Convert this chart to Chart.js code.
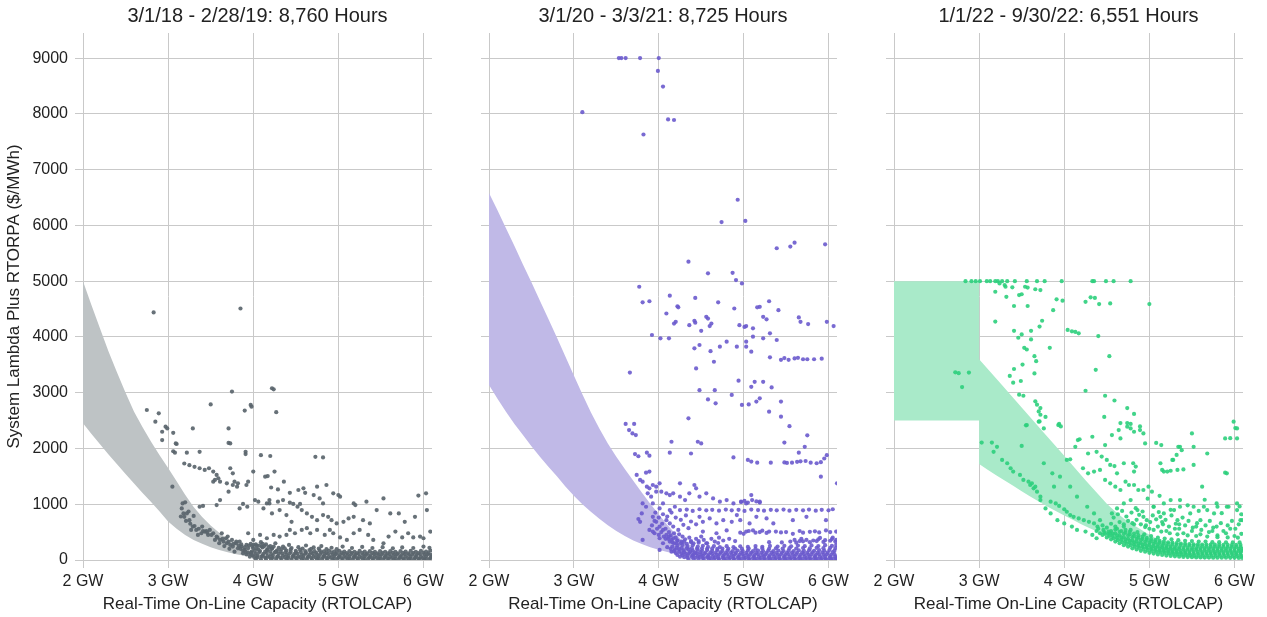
<!DOCTYPE html>
<html>
<head>
<meta charset="utf-8">
<script src="https://cdn.jsdelivr.net/npm/chart.js@4.4.1/dist/chart.umd.min.js"></script>
<style>
  html, body { margin: 0; padding: 0; background: #fff; }
  .panel { position: absolute; top: 0; height: 617px; }
</style>
</head>
<body>
<div class="panel" style="left:0;width:450px"><canvas id="c1"></canvas></div>
<div class="panel" style="left:450px;width:410px"><canvas id="c2"></canvas></div>
<div class="panel" style="left:860px;width:407px"><canvas id="c3"></canvas></div>
<script>
// panel titles / axis labels
const titles = ['3/1/18 - 2/28/19: 8,760 Hours', '3/1/20 - 3/3/21: 8,725 Hours', '1/1/22 - 9/30/22: 6,551 Hours'];
const xTitle = 'Real-Time On-Line Capacity (RTOLCAP)';
const yTitle = 'System Lambda Plus RTORPA ($/MWh)';
const xTicks = [2, 3, 4, 5, 6];
const yTicks = [0, 1000, 2000, 3000, 4000, 5000, 6000, 7000, 8000, 9000];

// shaded ORDC bands [GW, $/MWh]
const band18Upper = [[2.0,5000],[2.1,4570],[2.2,4150],[2.3,3740],[2.4,3360],[2.5,3000],[2.6,2660],[2.7,2380],[2.8,2120],[2.9,1880],[3.0,1650],[3.1,1410],[3.2,1170],[3.3,950],[3.4,770],[3.5,620],[3.6,490],[3.7,380],[3.8,285],[3.9,205],[4.0,138],[4.1,90],[4.2,58],[4.3,38],[4.4,25]];
const band18Lower = [[2.0,2450],[2.1,2260],[2.2,2075],[2.3,1890],[2.4,1715],[2.5,1540],[2.6,1370],[2.7,1200],[2.8,1040],[2.9,870],[3.0,690],[3.1,560],[3.2,450],[3.3,360],[3.4,290],[3.5,228],[3.6,178],[3.7,138],[3.8,105],[3.9,78],[4.0,58],[4.1,43],[4.2,32],[4.3,22],[4.4,15]];
const band20Upper = [[2.0,6580],[2.1,6270],[2.2,5950],[2.3,5630],[2.4,5300],[2.5,4980],[2.6,4650],[2.7,4320],[2.8,3990],[2.9,3650],[3.0,3310],[3.1,2970],[3.2,2650],[3.3,2360],[3.4,2090],[3.5,1850],[3.6,1630],[3.7,1420],[3.8,1210],[3.9,1010],[4.0,820],[4.1,630],[4.2,460],[4.3,310],[4.4,190],[4.5,110],[4.6,60],[4.7,32],[4.8,18]];
const band20Lower = [[2.0,3140],[2.1,2890],[2.2,2660],[2.3,2440],[2.4,2240],[2.5,2040],[2.6,1850],[2.7,1670],[2.8,1500],[2.9,1320],[3.0,1150],[3.1,1000],[3.2,865],[3.3,740],[3.4,625],[3.5,520],[3.6,430],[3.7,350],[3.8,285],[3.9,230],[4.0,182],[4.1,143],[4.2,110],[4.3,82],[4.4,58],[4.5,40],[4.6,27],[4.7,17],[4.8,10]];
const band22Upper = [[2.0,5000],[3.0,5000],[3.0,3600],[3.25,3170],[3.5,2735],[3.75,2300],[4.0,1870],[4.25,1430],[4.5,1010],[4.6,870],[4.7,745],[4.8,640],[4.9,545],[5.0,455],[5.1,370],[5.2,288],[5.3,210],[5.4,140],[5.5,88],[5.6,52],[5.7,30],[5.8,18]];
const band22Lower = [[2.0,2500],[3.0,2500],[3.0,1720],[3.1,1620],[3.2,1520],[3.3,1425],[3.4,1330],[3.5,1235],[3.6,1140],[3.7,1050],[3.8,960],[3.9,878],[4.0,800],[4.1,720],[4.2,643],[4.3,570],[4.4,500],[4.5,433],[4.6,370],[4.7,312],[4.8,260],[4.9,212],[5.0,170],[5.1,133],[5.2,100],[5.3,75],[5.4,55],[5.5,40],[5.6,28],[5.7,19],[5.8,12]];

// hourly observations, scattered part
const pts18 = [[2.83,4440],[3.85,4510],[3.75,3020],[4.22,3080],[4.24,3060],[3.50,2790],[3.97,2780],[3.98,2750],[3.90,2680],[4.27,2650],[2.75,2690],[2.89,2630],[2.85,2480],[2.97,2390],[2.99,2360],[2.93,2300],[2.93,2150],[3.06,2280],[3.29,2360],[3.71,2360],[3.71,2100],[3.73,2090],[3.09,2090],[3.10,2080],[3.06,1950],[3.08,1925],[3.37,1940],[3.22,1925],[3.91,1940],[3.91,1900],[4.09,1880],[4.20,1865],[4.73,1850],[4.82,1840],[3.19,1730],[3.25,1700],[3.31,1670],[3.37,1645],[3.43,1615],[3.48,1645],[3.53,1585],[3.57,1525],[3.59,1465],[3.61,1405],[3.55,1435],[3.53,1405],[3.05,1315],[3.73,1645],[3.76,1555],[3.78,1405],[3.82,1375],[3.81,1315],[3.76,1345],[3.69,1375],[3.71,1225],[3.94,1405],[3.92,1345],[4.00,1585],[4.14,1495],[4.17,1505],[4.25,1585],[4.21,1300],[4.29,1265],[4.36,1405],[4.43,1205],[4.53,1255],[4.59,1285],[4.61,1205],[4.71,1165],[4.75,1315],[4.86,1345],[4.94,1195],[5.00,1165],[5.02,1135],[5.94,1155],[6.03,1195],[5.53,1105],[5.33,1045],[5.18,1015],[5.20,985],[4.78,1105],[4.82,1015],[4.02,1075],[4.06,1045],[4.19,1075],[4.19,1015],[4.29,1045],[4.35,1075],[4.43,1030],[4.47,1005],[4.52,955],[4.55,1005],[3.17,1015],[3.20,1035],[3.16,925],[3.18,835],[3.19,775],[3.37,955],[3.41,970],[3.57,985],[3.61,1075],[3.84,925],[3.88,1005],[3.93,955],[4.12,925],[4.16,1015],[4.22,835],[4.31,895],[4.39,805],[4.45,685],[4.57,895],[4.63,835],[4.69,775],[4.75,715],[4.82,805],[4.88,775],[4.92,715],[4.98,655],[5.06,685],[5.12,745],[5.18,775],[5.29,715],[5.37,655],[5.45,895],[5.61,835],[5.71,835],[5.78,685],[5.90,775],[6.04,895],[5.67,510],[5.75,405],[5.82,480],[5.88,405],[5.96,420],[6.00,390],[6.08,510],[5.59,420],[5.53,300],[5.41,360],[5.35,450],[5.25,540],[5.18,480],[5.10,360],[5.02,405],[4.94,480],[4.90,540],[4.84,450],[4.75,540],[4.67,480],[4.63,570],[4.57,540],[4.49,480],[4.43,540],[4.39,450],[4.31,420],[4.24,450],[4.16,390],[4.08,450],[4.00,360],[3.94,480],[3.22,835],[3.25,715],[3.29,600],[3.33,540],[3.39,480],[3.43,510],[3.47,450],[3.53,480],[3.57,420],[3.61,360],[3.65,330],[3.69,300],[3.73,270],[3.76,240],[3.80,300],[3.82,210],[3.86,240],[3.90,180],[3.94,210],[3.98,150],[3.27,540],[3.35,450],[3.49,540],[3.55,360],[3.63,480],[3.68,390],[3.75,360],[3.78,150],[3.84,330],[3.92,270],[4.00,270],[4.04,210],[4.10,240],[4.16,180],[4.22,210],[4.27,150],[3.60,300],[3.66,250],[3.72,200],[3.88,120],[3.92,100],[3.70,420],[3.80,330],[3.86,280],[3.45,520],[3.40,600],
  [3.15,780],[3.21,700],[3.26,650],[3.31,610],[3.36,560],[3.41,520],[3.46,490],[3.51,450],[3.58,400],[3.64,380],[3.71,330],[3.77,290],[3.83,260],[3.24,870],[3.30,790]];
// dense low-price hours
const core18 = [[3.96,60],[4.01,55],[4.05,48],[4.10,62],[4.14,45],[4.19,52],[4.23,40],[4.28,58],[4.32,44],[4.37,50],[4.41,38],[4.46,55],[4.50,42],[4.55,48],[4.59,35],[4.64,52],[4.68,40],[4.73,46],[4.77,33],[4.82,50],[4.86,38],[4.91,45],[4.95,30],[5.00,48],[5.04,36],[5.09,42],[5.13,30],[5.18,46],[5.22,35],[5.27,40],[5.31,28],[5.36,44],[5.40,33],[5.45,39],[5.49,27],[5.54,42],[5.58,32],[5.63,38],[5.67,26],[5.72,40],[5.76,30],[5.81,36],[5.85,25],[5.90,38],[5.94,30],[5.99,35],[6.03,26],[6.08,36],
  [3.98,130],[4.03,115],[4.07,140],[4.12,110],[4.16,125],[4.21,105],[4.25,130],[4.30,112],[4.34,120],[4.39,100],[4.43,118],[4.48,105],[4.52,115],[4.57,98],[4.61,112],[4.66,100],[4.70,110],[4.75,95],[4.79,108],[4.84,100],[4.88,112],[4.93,96],[4.97,105],[5.02,95],[5.06,110],[5.11,98],[5.15,104],[5.20,92],[5.24,108],[5.29,96],[5.33,102],[5.38,90],[5.42,106],[5.47,95],[5.51,100],[5.56,90],[5.60,104],[5.65,94],[5.69,100],[5.74,90],[5.78,104],[5.83,95],[5.87,100],[5.92,92],[5.96,106],[6.01,96],[6.05,102],[6.09,94],
  [4.00,210],[4.06,190],[4.11,225],[4.17,185],[4.22,200],[4.28,175],[4.33,195],[4.39,170],[4.44,190],[4.50,165],[4.55,180],[4.61,160],[4.66,178],[4.72,158],[4.78,172],[4.83,155],[4.89,170],[4.95,150],[5.01,165],[5.07,150],[5.13,160],[5.19,148],[5.25,162],[5.31,150],[5.37,158],[5.43,145],[5.49,160],[5.55,148],[5.61,158],[5.67,145],[5.73,160],[5.79,150],[5.85,162],[5.91,148],[5.97,165],[6.03,150],[6.08,170],
  [3.97,290],[4.04,260],[4.09,320],[4.15,280],[4.20,250],[4.26,300],[4.35,240],[4.42,270],[4.53,230],[4.62,260],[4.71,225],[4.80,250],[4.92,220],[5.05,240],[5.16,215],[5.28,235],[5.40,215],[5.52,230],[5.64,210],[5.75,225],[5.88,215],[6.00,240],[6.07,220],
  [4.03,20],[4.09,15],[4.15,22],[4.21,12],[4.27,18],[4.33,10],[4.39,16],[4.45,12],[4.51,18],[4.57,10],[4.63,15],[4.69,12],[4.75,18],[4.81,10],[4.87,14],[4.93,12],[4.99,16],[5.05,10],[5.11,14],[5.17,10],[5.23,15],[5.29,10],[5.35,14],[5.41,10],[5.47,15],[5.53,10],[5.59,14],[5.65,10],[5.71,15],[5.77,10],[5.83,14],[5.89,10],[5.95,15],[6.01,10],[6.07,14],
  [3.99,85],[4.05,78],[4.11,82],[4.17,72],[4.23,80],[4.29,70],[4.35,76],[4.41,68],[4.47,75],[4.53,66],[4.59,74],[4.65,66],[4.71,72],[4.77,64],[4.83,72],[4.89,64],[4.95,70],[5.01,62],[5.07,70],[5.13,62],[5.19,68],[5.25,62],[5.31,68],[5.37,60],[5.43,68],[5.49,60],[5.55,66],[5.61,60],[5.67,66],[5.73,60],[5.79,66],[5.85,60],[5.91,66],[5.97,60],[6.03,66],[6.09,62],
  [4.02,165],[4.08,160],[4.14,150],[4.20,155],[4.26,145],[4.32,150],[4.38,140],[4.44,148],[4.50,135],[4.56,142],[4.62,132],[4.68,140],[4.74,130],[4.80,138],[4.86,128],[4.92,135],[4.98,126],[5.04,132],[5.10,124],[5.16,130],[5.22,122],[5.28,128],[5.34,120],[5.40,128],[5.46,120],[5.52,126],[5.58,120],[5.64,126],[5.70,120],[5.76,126],[5.82,120],[5.88,128],[5.94,122],[6.00,130],[6.06,124],
  [3.85,200],[3.88,170],[3.91,150],[3.94,130],[3.97,110],[3.90,230],[3.95,260],[3.99,240],[4.03,280],[4.07,260],[4.11,290],[4.13,250],[4.18,230],[4.24,240],[4.30,220],[4.37,210],[4.45,215],[4.58,205],[4.68,200],[4.77,205],[4.86,195],[4.98,195]];

const pts20 = [[3.53,9000],[3.56,9000],[3.61,9000],[3.78,9000],[4.00,9000],[3.99,8770],[4.05,8490],[3.10,8030],[4.11,7900],[4.18,7890],[3.82,7630],[4.93,6460],[4.74,6060],[5.02,6080],[5.39,5590],[5.55,5620],[5.60,5690],[5.96,5660],[4.35,5350],[4.58,5140],[4.87,5150],[4.91,5020],[4.98,4960],[3.77,4900],[3.81,4620],[3.89,4640],[4.13,4740],[4.23,4530],[4.43,4700],[4.70,4620],[4.89,4510],[5.16,4530],[5.19,4540],[5.30,4640],
  [4.22,4550],[4.09,4420],[4.20,4270],[4.18,4240],[4.36,4210],[4.42,4290],[4.43,4255],[4.56,4360],[4.58,4330],[4.50,4110],[4.62,4240],[4.60,4195],[4.95,4210],[5.01,4180],[5.03,4195],[5.11,4155],[5.23,4360],[5.27,4315],[5.31,4065],[5.41,4480],[5.65,4350],[5.67,4270],[5.76,4230],[5.98,4270],[6.06,4195],[3.92,4035],[4.02,3975],[4.12,3975],[4.48,3855],[4.42,3795],[4.61,3745],[4.72,3825],[4.80,3915],[4.92,3825],[5.03,3915],[5.03,3825],[5.09,3735],[5.11,4005],[5.23,3975],[5.39,3945],[4.65,3555],[5.31,3635],[5.44,3590],[5.48,3620],[5.53,3590],[5.60,3615],[5.64,3625],[5.70,3600],[5.75,3600],[5.83,3600],[5.92,3610],[4.44,3435],[3.66,3360],[4.94,3215],[5.09,3105],[5.13,3195],[5.23,3195],[5.33,3095],[4.48,3045],[4.66,3045],[4.86,2960],[5.19,2900],[5.15,2840],[4.58,2880],[4.67,2810],[4.98,2780],[5.06,2790],[5.44,2840],[5.30,2660],[4.35,2540],[5.44,2570],[3.61,2440],[3.65,2330],[3.71,2440],[3.69,2270],[3.73,2240],[5.54,2400],[4.15,2120],[4.46,2120],[4.50,2090],[5.75,2235],[5.48,2105],[5.72,2030],[4.13,1925],[4.38,1910],[4.88,1840],[5.05,1795],[5.09,1765],[5.16,1745],[5.32,1745],[5.48,1750],[5.51,1740],[5.57,1745],[5.63,1760],[5.67,1770],[5.73,1775],[5.79,1745],[5.86,1735],[5.91,1755],[5.95,1820],[5.98,1880],[5.65,1925],[5.91,1495],[3.72,1900],[3.76,1860],[3.86,1925],[3.89,1870],[3.89,1585],[6.10,1375],
  [3.74,1525],[3.85,1565],[3.78,1435],[3.81,1405],[3.86,1315],[3.89,1285],[3.93,1345],[3.97,1315],[4.01,1375],[4.03,1225],[4.09,1195],[4.13,1165],[4.17,1195],[3.87,1195],[3.91,1135],[3.97,1225],[4.25,1375],[4.42,1345],[4.44,1285],[4.25,1135],[4.31,1075],[4.36,1195],[4.48,1135],[4.56,1195],[4.64,1105],[4.72,1045],[4.80,1075],[4.88,1015],[4.97,1045],[5.03,1015],[5.09,1165],[5.19,1045],[3.81,1015],[3.85,955],[3.93,1015],[4.01,925],[4.05,1015],[4.13,895],[4.19,955],[4.25,895],
  [4.33,905],[4.40,880],[4.48,910],[4.56,890],[4.63,900],[4.71,885],[4.79,905],[4.86,890],[4.94,900],[5.01,880],[5.09,905],[5.17,895],[5.24,885],[5.32,900],[5.39,890],[5.47,905],[5.54,885],[5.62,900],[5.70,890],[5.77,905],[5.85,885],[5.92,900],[6.00,890],[6.05,910],[4.97,1040],[5.01,1060],[5.05,1030],[5.15,1050],[5.19,1030],[5.10,1075],
  [3.76,735],[3.80,835],[3.93,775],[3.97,685],[4.01,600],[4.05,540],[3.89,540],[3.95,480],[4.01,390],[4.09,450],[4.15,360],[4.21,300],[4.27,330],[4.09,715],[4.13,655],[4.17,600],[4.23,540],[4.29,630],[4.35,570],[4.48,775],[4.52,685],[4.60,745],[4.68,655],[4.76,715],[4.86,685],[4.92,805],[4.96,715],[5.07,655],[5.15,775],[5.27,745],[5.35,655],[5.58,715],[5.74,775],[5.97,715],
  [4.52,510],[4.68,480],[4.80,530],[4.96,490],[5.03,510],[5.11,530],[5.19,500],[5.27,485],[5.38,510],[5.50,500],[5.58,470],[5.66,520],[5.78,505],[5.89,495],[5.97,530],[6.09,510],[5.00,470],[5.06,520],[5.14,490],[5.22,525],[5.30,510],[5.44,495],[5.70,490],[5.84,515],[6.02,500],[3.78,685],[3.81,360],[3.93,510],[4.01,180],
  [3.92,620],[3.95,700],[3.98,560],[4.00,450],[4.03,500],[4.06,420],[4.08,560],[4.11,380],[4.12,500],[4.14,440],[4.16,320],[4.18,480],[4.20,400],[4.22,350],[4.24,460],[4.26,300],[4.28,420],[4.31,370],[4.33,290],[4.36,400],[4.38,340],[4.41,300],[4.44,380],[4.47,340],[4.50,420],[4.53,360],[4.57,300],[4.62,380],[4.66,330],[4.71,400],[4.76,350],[4.83,380],[4.90,340],[4.05,820],[4.10,780],[4.15,850],[4.20,760],[4.26,720],[4.32,800],[4.38,690],[4.44,640],[4.04,650],[3.96,850],[4.00,760]];
const core20 = [[4.25,60],[4.30,50],[4.34,45],[4.39,55],[4.43,40],[4.48,50],[4.52,35],[4.57,45],[4.61,32],[4.66,44],[4.70,30],[4.75,42],[4.79,28],[4.84,40],[4.88,30],[4.93,38],[4.97,26],[5.02,40],[5.06,28],[5.11,36],[5.15,25],[5.20,38],[5.24,28],[5.29,35],[5.33,25],[5.38,36],[5.42,27],[5.47,34],[5.51,25],[5.56,36],[5.60,27],[5.65,33],[5.69,24],[5.74,35],[5.78,27],[5.83,33],[5.87,25],[5.92,34],[5.96,26],[6.01,32],[6.05,25],[6.09,33],
  [4.15,150],[4.20,125],[4.27,120],[4.32,110],[4.36,125],[4.41,105],[4.45,118],[4.50,100],[4.54,112],[4.59,98],[4.63,110],[4.68,95],[4.72,108],[4.77,96],[4.81,106],[4.86,94],[4.90,104],[4.95,92],[4.99,104],[5.04,94],[5.08,102],[5.13,92],[5.17,104],[5.22,94],[5.26,100],[5.31,90],[5.35,104],[5.40,94],[5.44,100],[5.49,92],[5.53,104],[5.58,95],[5.62,102],[5.67,92],[5.71,104],[5.76,95],[5.80,102],[5.85,92],[5.89,104],[5.94,96],[5.98,102],[6.03,94],[6.07,104],
  [4.05,300],[4.10,230],[4.14,200],[4.19,185],[4.24,195],[4.29,175],[4.35,190],[4.40,170],[4.46,182],[4.51,165],[4.57,178],[4.63,162],[4.69,175],[4.75,160],[4.81,172],[4.87,158],[4.93,170],[4.99,160],[5.05,168],[5.11,158],[5.17,170],[5.23,160],[5.29,168],[5.35,158],[5.41,170],[5.47,160],[5.53,170],[5.59,160],[5.65,172],[5.71,162],[5.77,174],[5.83,164],[5.89,176],[5.95,166],[6.01,178],[6.07,168],
  [4.08,380],[4.13,330],[4.18,300],[4.22,260],[4.28,270],[4.34,250],[4.40,265],[4.46,240],[4.52,255],[4.58,235],[4.65,250],[4.72,232],[4.80,248],[4.88,230],[4.96,245],[5.05,235],[5.14,250],[5.22,238],[5.31,252],[5.40,240],[5.48,255],[5.56,245],[5.64,258],[5.72,248],[5.80,262],[5.88,250],[5.96,265],[6.04,255],[6.09,270],
  [4.12,420],[4.17,390],[4.22,350],[4.30,330],[4.38,320],[4.47,310],[4.56,300],[4.70,305],[5.30,320],[5.45,315],[5.55,330],[5.62,310],[5.70,335],[5.78,320],[5.86,340],[5.94,325],[6.02,345],[6.08,330],[5.68,380],[5.90,395],[6.05,400],
  [4.35,12],[4.41,15],[4.47,10],[4.53,14],[4.59,10],[4.65,13],[4.71,9],[4.77,13],[4.83,9],[4.89,12],[4.95,8],[5.01,12],[5.07,8],[5.13,12],[5.19,8],[5.25,12],[5.31,8],[5.37,12],[5.43,8],[5.49,12],[5.55,8],[5.61,12],[5.67,8],[5.73,12],[5.79,8],[5.85,12],[5.91,8],[5.97,12],[6.03,8],[6.09,12],
  [4.22,90],[4.28,85],[4.34,78],[4.40,80],[4.46,72],[4.52,75],[4.58,68],[4.64,72],[4.70,65],[4.76,70],[4.82,64],[4.88,68],[4.94,62],[5.00,68],[5.06,62],[5.12,66],[5.18,60],[5.24,66],[5.30,60],[5.36,66],[5.42,60],[5.48,66],[5.54,60],[5.60,66],[5.66,60],[5.72,66],[5.78,60],[5.84,66],[5.90,60],[5.96,66],[6.02,60],[6.08,66],
  [4.18,160],[4.24,150],[4.30,142],[4.37,145],[4.43,136],[4.49,140],[4.55,132],[4.61,138],[4.67,130],[4.73,136],[4.79,128],[4.85,134],[4.91,128],[4.97,134],[5.03,128],[5.09,134],[5.15,128],[5.21,134],[5.27,128],[5.33,134],[5.39,128],[5.45,134],[5.51,128],[5.57,134],[5.63,130],[5.69,136],[5.75,130],[5.81,138],[5.87,132],[5.93,138],[5.99,134],[6.05,140],
  [4.16,240],[4.21,220],[4.27,215],[4.33,210],[4.39,212],[4.45,205],[4.51,210],[4.57,202],[4.63,208],[4.69,200],[4.75,206],[4.82,200],[4.90,205],[4.98,198],[5.06,205],[5.14,200],[5.22,208],[5.30,202],[5.38,210],[5.46,204],[5.54,212],[5.62,206],[5.70,215],[5.78,208],[5.86,218],[5.94,212],[6.02,220],[6.08,215],
  [5.60,360],[5.66,340],[5.74,360],[5.82,350],[5.88,370],[5.96,355],[6.04,375],[6.09,360]];

const pts22 = [[2.84,5000],[2.91,5000],[2.96,5000],[3.01,5000],[3.09,5000],[3.13,5000],[3.19,5000],[3.22,5000],[3.27,5000],[3.33,5000],[3.42,5000],[3.56,5000],[3.68,5000],[3.77,5000],[3.97,5000],[4.33,5000],[4.35,5000],[4.49,5000],[4.58,5000],[4.78,5000],
  [3.19,4810],[3.24,4960],[3.30,4930],[3.31,4900],[3.39,4890],[3.54,4900],[3.57,4885],[3.66,4855],[3.72,4840],[3.32,4720],[3.47,4750],[3.50,4765],[3.41,4555],[3.57,4555],[3.19,4275],[3.41,4110],[3.50,4045],[3.61,4110],[3.46,3985],[3.61,3955],[3.71,4185],[3.74,4290],[3.87,4480],[3.91,4675],[3.98,4650],[4.04,4125],[4.09,4100],[4.13,4090],[4.17,4065],[4.25,4630],[4.31,4710],[4.36,4700],[4.41,4590],[4.54,4600],[4.40,4015],[5.00,4590],[3.53,3805],[3.56,3775],[3.83,3805],[3.65,3655],[3.67,3565],[4.53,3655],[3.51,3505],[3.41,3425],[3.36,3300],[3.40,3180],[3.49,3210],[3.65,3345],[4.37,3410],[4.25,3035],[3.47,2965],[3.52,2945],[3.66,2845],[3.68,2785],[3.72,2725],[3.70,2665],[3.72,2605],[3.78,2565],[3.71,2485],[4.48,2945],[4.59,2860],[4.74,2725],[4.82,2620],[4.47,2565],[4.66,2455],[4.74,2455],[4.78,2440],[4.89,2395],[3.94,2440],[3.96,2395],[3.55,2415],[2.72,3365],[2.76,3350],[2.88,3360],[2.80,3100],
  [3.03,2105],[3.15,2105],[3.21,2030],[3.50,2045],[3.17,1940],[3.27,1795],[3.33,1735],[3.37,1645],[3.40,1585],[3.48,1525],[3.52,1435],[3.58,1405],[3.60,1345],[3.64,1285],[3.68,1225],[3.72,1135],[3.62,1375],[3.66,1315],[3.76,1735],[3.86,1555],[3.95,1495],[3.56,2420],[3.70,2480],[3.76,2360],[3.93,2420],[4.03,1795],[4.07,1805],[4.13,2030],[4.16,2150],[4.18,2165],[4.22,1645],[4.28,1555],[4.33,2210],[4.28,1910],[4.38,1940],[4.44,1855],[4.42,1615],[4.35,1585],[4.48,2060],[4.56,2240],[4.64,2330],[4.66,2180],[4.74,2390],[4.78,2360],[4.82,2300],[4.89,2330],[4.93,2270],[4.95,2090],[4.50,1795],[4.54,1705],[4.59,1685],[4.62,1555],[4.70,1735],[4.81,1735],[4.84,1675],[4.82,1585],[4.48,1435],[4.54,1375],[4.60,1315],[4.66,1255],[4.72,1405],[4.76,1345],[4.82,1345],[4.87,1255],[4.93,1255],[4.99,1315],[5.03,1225],[5.13,1735],[5.15,1615],[5.21,1585],[5.27,1795],[5.33,1615],[5.36,2030],[5.38,1970],[5.50,2270],[5.52,2030],[5.68,1910],[5.89,2180],[5.91,1555],[6.03,2180],[6.03,2360],[5.99,2480],[6.03,1015],[6.07,715],
  [3.72,1075],[3.84,1045],[3.90,1015],[3.94,970],[4.00,910],[4.03,865],[4.07,805],[4.11,775],[4.17,745],[4.23,715],[4.29,685],[4.35,655],[4.39,600],[4.46,540],[4.54,480],[3.78,925],[3.84,835],[3.92,715],[4.00,655],[4.09,600],[4.15,540],[4.25,510],[4.33,450],[4.38,390],[3.88,1315],[4.07,1315],[4.15,1135],[4.27,955],[4.35,835],[4.42,715],[4.56,835],[4.62,925],[4.70,1015],[4.78,1075],[4.86,895],[4.93,775],[5.05,955],[5.17,1015],[5.29,895],[5.36,1075],[5.52,955],[5.68,895],[5.79,1015],[5.91,955],[5.60,715],[5.33,715],[5.13,775],[4.97,715],
  [6.01,2365],[5.95,2185],[5.89,1565],[5.62,1315],[5.34,2030],[5.32,1885],[5.52,1705],[5.17,1585],[5.25,1600],[5.40,1625],[5.28,1795],[5.08,2100],[5.14,2060],[5.80,955],[5.93,955],[6.03,895],[6.09,715],[5.64,955],[5.76,835],[5.48,835],[5.36,955],[5.25,1075],[5.17,835],[5.05,955],
  [4.40,560],[4.45,620],[4.50,580],[4.55,650],[4.60,600],[4.65,680],[4.70,640],[4.75,700],[4.80,660],[4.85,720],[4.42,480],[4.38,520],
  [4.58,760],[4.63,820],[4.68,880],[4.73,780],[4.79,850],[4.84,930],[4.88,810],[4.92,870],[4.96,620],[5.01,680],[5.04,800],[5.08,730],[5.11,860],[5.16,640],[5.19,720],[5.23,600],[5.26,800],[5.31,650],[5.35,560],[5.39,760],[5.42,620],[5.46,700],[5.51,580],[5.56,660],[5.61,540],[5.66,620],[5.71,700],[5.74,520],[5.79,600],[5.84,660],[5.87,520],[5.92,620],[5.97,700],[6.01,560],[6.05,640],[6.08,820],[5.25,900],[5.45,980],[5.65,1080],[5.85,840],[6.06,960],[4.98,1100],[5.12,1150],[5.58,880]];
const core22 = [[4.45,450],[4.50,405],[4.55,370],[4.60,330],[4.65,300],[4.70,265],[4.75,240],[4.80,210],[4.85,190],[4.90,165],[4.95,148],[5.00,128],[5.05,115],[5.10,100],[5.15,90],[5.20,80],[5.25,72],[5.30,66],[5.35,60],[5.40,56],[5.45,52],[5.50,50],[5.55,47],[5.60,46],[5.65,44],[5.70,43],[5.75,42],[5.80,41],[5.85,40],[5.90,40],[5.95,39],[6.00,39],[6.05,38],[6.09,38],
  [4.47,500],[4.52,470],[4.57,430],[4.62,395],[4.67,365],[4.72,330],[4.77,305],[4.82,280],[4.87,255],[4.92,235],[4.97,215],[5.02,198],[5.07,182],[5.12,170],[5.17,160],[5.22,150],[5.27,142],[5.32,135],[5.37,130],[5.42,126],[5.47,122],[5.52,118],[5.57,116],[5.62,114],[5.67,112],[5.72,110],[5.77,110],[5.82,108],[5.87,108],[5.92,106],[5.97,106],[6.02,105],[6.07,105],
  [4.55,520],[4.60,480],[4.65,440],[4.70,410],[4.75,380],[4.80,350],[4.85,330],[4.90,305],[4.95,285],[5.00,270],[5.05,250],[5.10,240],[5.15,228],[5.20,218],[5.25,210],[5.30,205],[5.35,198],[5.40,192],[5.45,188],[5.50,185],[5.55,182],[5.60,180],[5.65,178],[5.70,176],[5.75,175],[5.80,174],[5.85,172],[5.90,172],[5.95,170],[6.00,170],[6.05,168],[6.09,168],
  [4.62,560],[4.67,520],[4.72,490],[4.77,460],[4.82,430],[4.87,400],[4.92,380],[4.97,360],[5.02,340],[5.07,320],[5.12,310],[5.17,298],[5.22,288],[5.27,280],[5.32,272],[5.37,268],[5.42,262],[5.47,258],[5.52,255],[5.57,250],[5.62,248],[5.67,246],[5.72,244],[5.77,242],[5.82,240],[5.87,240],[5.92,238],[5.97,238],[6.02,236],[6.07,236],
  [4.70,600],[4.78,540],[4.86,500],[4.94,460],[5.02,430],[5.10,400],[5.18,385],[5.26,370],[5.34,355],[5.42,345],[5.50,340],[5.58,330],[5.66,330],[5.74,320],[5.82,320],[5.90,318],[5.98,315],[6.06,315],
  [4.82,640],[4.95,590],[5.05,540],[5.14,510],[5.24,480],[5.33,460],[5.45,440],[5.55,430],[5.68,420],[5.80,410],[5.92,405],[6.04,400],
  [4.48,470],[4.53,430],[4.58,390],[4.63,355],[4.68,322],[4.73,292],[4.78,265],[4.83,240],[4.88,218],[4.93,198],[4.98,180],[5.03,165],[5.08,150],[5.13,138],[5.18,128],[5.23,118],[5.28,110],[5.33,104],[5.38,98],[5.43,93],[5.48,88],[5.53,85],[5.58,82],[5.63,80],[5.68,78],[5.73,76],[5.78,75],[5.83,74],[5.88,73],[5.93,72],[5.98,72],[6.03,71],[6.08,71],
  [4.52,510],[4.57,475],[4.62,440],[4.67,405],[4.72,372],[4.77,345],[4.82,318],[4.87,292],[4.92,270],[4.97,250],[5.02,232],[5.07,216],[5.12,203],[5.17,192],[5.22,182],[5.27,174],[5.32,167],[5.37,160],[5.42,155],[5.47,150],[5.52,146],[5.57,144],[5.62,142],[5.67,140],[5.72,138],[5.77,137],[5.82,136],[5.87,135],[5.92,134],[5.97,134],[6.02,133],[6.07,133],
  [4.60,545],[4.65,505],[4.70,472],[4.75,440],[4.80,410],[4.85,382],[4.90,356],[4.95,332],[5.00,312],[5.05,292],[5.10,276],[5.15,262],[5.20,250],[5.25,240],[5.30,232],[5.35,226],[5.40,220],[5.45,216],[5.50,212],[5.55,210],[5.60,208],[5.65,206],[5.70,205],[5.75,204],[5.80,203],[5.85,202],[5.90,202],[5.95,201],[6.00,201],[6.05,200],[6.09,200],
  [4.72,540],[4.77,505],[4.82,475],[4.87,445],[4.92,420],[4.97,396],[5.02,376],[5.07,356],[5.12,342],[5.17,330],[5.22,318],[5.27,310],[5.32,302],[5.37,296],[5.42,290],[5.47,286],[5.52,282],[5.57,280],[5.62,278],[5.67,276],[5.72,275],[5.77,274],[5.82,273],[5.87,272],[5.92,272],[5.97,271],[6.02,271],[6.07,270],
  [4.90,640],[5.00,560],[5.10,600],[5.20,520],[5.30,560],[5.40,480],[5.50,520],[5.60,460],[5.70,500],[5.80,440],[5.90,480],[6.00,430],[6.08,470],[5.15,680],[5.35,640],[5.55,600],[5.75,580],[5.95,560]];

const FONT = '"Liberation Sans", Arial, sans-serif';
const GRID = '#c9c9c9';
const INK = '#222222';

function xy(list) {
  return list.map(function (p) { return { x: p[0], y: p[1] }; });
}

function makeChart(id, title, pts, core, upper, lower, dotColor, bandColor, yWidth, padRight, showY) {
  new Chart(document.getElementById(id), {
    type: 'scatter',
    data: {
      datasets: [
        { data: xy(pts.concat(core)), backgroundColor: dotColor, borderWidth: 0, pointRadius: 2.1, pointHoverRadius: 2.1 },
        { data: xy(upper), showLine: true, pointRadius: 0, borderWidth: 0, borderColor: bandColor, backgroundColor: bandColor, fill: '+1', tension: 0 },
        { data: xy(lower), showLine: true, pointRadius: 0, borderWidth: 0, borderColor: bandColor, backgroundColor: bandColor, fill: false, tension: 0 }
      ]
    },
    options: {
      responsive: true,
      maintainAspectRatio: false,
      animation: false,
      events: [],
      layout: { padding: { left: 0, right: padRight, top: 0, bottom: 0 } },
      plugins: {
        legend: { display: false },
        tooltip: { enabled: false },
        title: { display: true, text: title, fullSize: false, color: INK,
          font: { family: FONT, size: 20, weight: 'normal' }, padding: { top: 4, bottom: 5 } }
      },
      scales: {
        x: {
          type: 'linear', min: 2, max: 6.1,
          afterBuildTicks: function (s) { s.ticks = xTicks.map(function (v) { return { value: v }; }); },
          ticks: { color: INK, font: { family: FONT, size: 16 }, padding: 4, maxRotation: 0,
            callback: function (v) { return v + ' GW'; } },
          grid: { color: GRID, lineWidth: 1, tickLength: 8 },
          border: { display: false },
          title: { display: true, text: xTitle, color: INK, font: { family: FONT, size: 17 }, padding: { top: 0, bottom: 2 } },
          afterFit: function (s) { s.height = 57; }
        },
        y: {
          min: 0, max: 9450,
          afterBuildTicks: function (s) { s.ticks = yTicks.map(function (v) { return { value: v }; }); },
          ticks: { display: showY, color: INK, font: { family: FONT, size: 16 }, padding: 7,
            callback: function (v) { return String(v); } },
          grid: { color: GRID, lineWidth: 1, tickLength: 8 },
          border: { display: false },
          title: { display: showY, text: yTitle, color: INK, font: { family: FONT, size: 17 }, padding: { top: 4, bottom: 0 } },
          afterFit: function (s) { s.width = yWidth; }
        }
      }
    }
  });
}

makeChart('c1', titles[0], pts18, core18, band18Upper, band18Lower, 'rgba(90,101,109,0.92)', '#bec3c5', 83, 18, true);
makeChart('c2', titles[1], pts20, core20, band20Upper, band20Lower, 'rgba(106,90,205,0.9)', '#c0b9e7', 39, 23, false);
makeChart('c3', titles[2], pts22, core22, band22Upper, band22Lower, 'rgba(44,207,124,0.9)', '#a9eac9', 34, 24, false);
</script>
</body>
</html>
